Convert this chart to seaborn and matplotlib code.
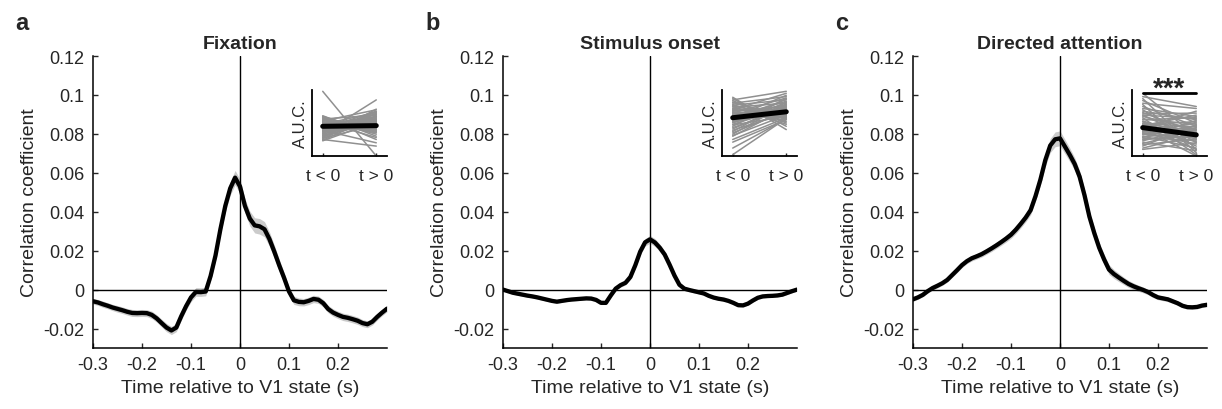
import numpy as np
import pandas as pd
import matplotlib
matplotlib.use("Agg")
import matplotlib.pyplot as plt
import seaborn as sns

sns.set_style("ticks")
plt.rcParams['font.family'] = ['Liberation Sans', 'DejaVu Sans']

# ---------------- data ----------------
time_s = [-0.30, -0.29, -0.28, -0.27, -0.26, -0.25, -0.24, -0.23, -0.22, -0.21,
          -0.20, -0.19, -0.18, -0.17, -0.16, -0.15, -0.14, -0.13, -0.12, -0.11,
          -0.10, -0.09, -0.08, -0.07, -0.06, -0.05, -0.04, -0.03, -0.02, -0.01,
          0.00, 0.01, 0.02, 0.03, 0.04, 0.05, 0.06, 0.07, 0.08, 0.09,
          0.10, 0.11, 0.12, 0.13, 0.14, 0.15, 0.16, 0.17, 0.18, 0.19,
          0.20, 0.21, 0.22, 0.23, 0.24, 0.25, 0.26, 0.27, 0.28, 0.29,
          0.30]

fixation_r = [-0.0060, -0.0066, -0.0075, -0.0083, -0.0092, -0.0099, -0.0106, -0.0114, -0.0120, -0.0121,
              -0.0120, -0.0121, -0.0130, -0.0148, -0.0172, -0.0195, -0.0210, -0.0195, -0.0137, -0.0085,
              -0.0040, -0.0012, -0.0013, -0.0010, 0.0070, 0.0175, 0.0310, 0.0430, 0.0520, 0.0575,
              0.0530, 0.0430, 0.0365, 0.0330, 0.0325, 0.0310, 0.0260, 0.0195, 0.0125, 0.0060,
              -0.0010, -0.0055, -0.0063, -0.0065, -0.0058, -0.0048, -0.0052, -0.0070, -0.0100, -0.0118,
              -0.0130, -0.0140, -0.0145, -0.0152, -0.0160, -0.0172, -0.0178, -0.0165, -0.0140, -0.0118,
              -0.0098]
fixation_sem = [0.0015, 0.0015, 0.0016, 0.0016, 0.0016, 0.0017, 0.0017, 0.0017, 0.0018, 0.0018,
                0.0018, 0.0018, 0.0019, 0.0019, 0.0020, 0.0021, 0.0021, 0.0021, 0.0021, 0.0021,
                0.0022, 0.0022, 0.0022, 0.0022, 0.0024, 0.0026, 0.0029, 0.0032, 0.0035, 0.0037,
                0.0037, 0.0037, 0.0038, 0.0039, 0.0040, 0.0039, 0.0037, 0.0034, 0.0031, 0.0027,
                0.0024, 0.0021, 0.0020, 0.0019, 0.0019, 0.0019, 0.0019, 0.0019, 0.0019, 0.0019,
                0.0019, 0.0019, 0.0019, 0.0019, 0.0019, 0.0018, 0.0018, 0.0017, 0.0017, 0.0016,
                0.0016]

onset_r = [0.0000, -0.0008, -0.0016, -0.0021, -0.0026, -0.0031, -0.0035, -0.0040, -0.0046, -0.0052,
           -0.0058, -0.0062, -0.0058, -0.0054, -0.0051, -0.0049, -0.0047, -0.0045, -0.0046, -0.0053,
           -0.0068, -0.0068, -0.0030, 0.0005, 0.0023, 0.0035, 0.0065, 0.0125, 0.0195, 0.0243,
           0.0258, 0.0242, 0.0215, 0.0180, 0.0128, 0.0072, 0.0025, 0.0005, -0.0002, -0.0008,
           -0.0014, -0.0020, -0.0032, -0.0041, -0.0047, -0.0051, -0.0058, -0.0068, -0.0080, -0.0081,
           -0.0072, -0.0056, -0.0042, -0.0035, -0.0033, -0.0032, -0.0030, -0.0026, -0.0017, -0.0008,
           0.0000]
onset_sem = [0.0008, 0.0008, 0.0008, 0.0008, 0.0008, 0.0008, 0.0008, 0.0008, 0.0008, 0.0008,
             0.0008, 0.0008, 0.0008, 0.0008, 0.0008, 0.0008, 0.0008, 0.0008, 0.0008, 0.0008,
             0.0009, 0.0009, 0.0009, 0.0009, 0.0010, 0.0011, 0.0013, 0.0015, 0.0017, 0.0019,
             0.0020, 0.0020, 0.0019, 0.0017, 0.0015, 0.0013, 0.0011, 0.0010, 0.0009, 0.0009,
             0.0008, 0.0008, 0.0008, 0.0008, 0.0008, 0.0008, 0.0008, 0.0008, 0.0008, 0.0008,
             0.0008, 0.0008, 0.0008, 0.0008, 0.0008, 0.0008, 0.0008, 0.0008, 0.0008, 0.0008,
             0.0008]

attention_r = [-0.0050, -0.0040, -0.0027, -0.0008, 0.0008, 0.0020, 0.0033, 0.0050, 0.0075, 0.0100,
               0.0126, 0.0146, 0.0161, 0.0171, 0.0182, 0.0196, 0.0211, 0.0227, 0.0244, 0.0262,
               0.0282, 0.0308, 0.0338, 0.0370, 0.0408, 0.0480, 0.0565, 0.0665, 0.0740, 0.0772,
               0.0777, 0.0735, 0.0692, 0.0645, 0.0580, 0.0485, 0.0375, 0.0290, 0.0215, 0.0155,
               0.0103, 0.0080, 0.0062, 0.0045, 0.0029, 0.0017, 0.0007, -0.0002, -0.0013, -0.0028,
               -0.0040, -0.0045, -0.0050, -0.0060, -0.0070, -0.0083, -0.0090, -0.0091, -0.0089, -0.0082,
               -0.0078]
attention_sem = [0.0010, 0.0010, 0.0010, 0.0010, 0.0011, 0.0011, 0.0011, 0.0012, 0.0012, 0.0013,
                 0.0013, 0.0013, 0.0014, 0.0014, 0.0015, 0.0015, 0.0016, 0.0016, 0.0017, 0.0018,
                 0.0019, 0.0020, 0.0021, 0.0022, 0.0024, 0.0026, 0.0029, 0.0033, 0.0036, 0.0038,
                 0.0038, 0.0037, 0.0035, 0.0033, 0.0031, 0.0030, 0.0029, 0.0028, 0.0027, 0.0026,
                 0.0025, 0.0023, 0.0021, 0.0019, 0.0018, 0.0017, 0.0016, 0.0015, 0.0014, 0.0013,
                 0.0012, 0.0012, 0.0012, 0.0011, 0.0011, 0.0011, 0.0010, 0.0010, 0.0010, 0.0010,
                 0.0010]

titles = ["Fixation", "Stimulus onset", "Directed attention"]
panel_letters = ["a", "b", "c"]
x_ticks = [-0.3, -0.2, -0.1, 0.0, 0.1, 0.2]
x_tick_labels = ["-0.3", "-0.2", "-0.1", "0", "0.1", "0.2"]
y_ticks = [-0.02, 0.0, 0.02, 0.04, 0.06, 0.08, 0.1, 0.12]
y_tick_labels = ["-0.02", "0", "0.02", "0.04", "0.06", "0.08", "0.1", "0.12"]

# inset (A.U.C., arbitrary units) - individual sessions, before (t<0) and after (t>0)
inset_conditions = [1, 2]
inset_labels = ["t < 0", "t > 0"]
fix_auc_pre = [0.98, 0.61, 0.60, 0.59, 0.58, 0.57, 0.56, 0.55, 0.54, 0.53,
               0.52, 0.51, 0.50, 0.50, 0.49, 0.48, 0.48, 0.47, 0.46, 0.46,
               0.45, 0.45, 0.44, 0.44, 0.43, 0.43, 0.42, 0.41, 0.41, 0.40,
               0.39, 0.38, 0.37, 0.36, 0.35, 0.34, 0.33, 0.32, 0.31, 0.30,
               0.29, 0.28, 0.27, 0.26, 0.25, 0.24, 0.23, 0.52, 0.38, 0.47]
fix_auc_post = [0.00, 0.30, 0.36, 0.25, 0.40, 0.33, 0.62, 0.42, 0.38, 0.70,
                0.44, 0.35, 0.55, 0.48, 0.58, 0.41, 0.66, 0.50, 0.43, 0.60,
                0.47, 0.52, 0.39, 0.63, 0.45, 0.56, 0.49, 0.68, 0.46, 0.53,
                0.20, 0.59, 0.51, 0.64, 0.54, 0.85, 0.57, 0.67, 0.50, 0.61,
                0.55, 0.71, 0.47, 0.65, 0.15, 0.60, 0.52, 0.28, 0.45, 0.37]
fix_auc_mean = [0.45, 0.46]
ons_auc_pre = [0.89, 0.87, 0.85, 0.84, 0.82, 0.81, 0.80, 0.78, 0.77, 0.76,
               0.75, 0.74, 0.72, 0.71, 0.70, 0.69, 0.68, 0.67, 0.66, 0.65,
               0.64, 0.63, 0.62, 0.61, 0.60, 0.59, 0.58, 0.57, 0.56, 0.55,
               0.54, 0.53, 0.52, 0.51, 0.50, 0.48, 0.47, 0.45, 0.43, 0.41,
               0.39, 0.37, 0.35, 0.33, 0.31, 0.30, 0.25, 0.21, 0.12, 0.02]
ons_auc_post = [0.40, 0.45, 0.98, 0.50, 0.55, 0.60, 0.90, 0.52, 0.85, 0.62,
                0.48, 0.80, 0.66, 0.58, 0.95, 0.70, 0.75, 0.57, 0.64, 0.88,
                0.68, 0.72, 0.61, 0.78, 0.83, 0.65, 0.92, 0.70, 0.74, 0.63,
                0.86, 0.67, 0.76, 0.69, 0.81, 0.73, 0.60, 0.87, 0.71, 0.77,
                0.65, 0.82, 0.68, 0.79, 0.62, 0.72, 0.58, 0.55, 0.56, 0.57]
ons_auc_mean = [0.58, 0.67]
att_auc_pre = [0.95, 0.90, 0.87, 0.84, 0.80, 0.78, 0.75, 0.72, 0.70, 0.68,
               0.66, 0.64, 0.62, 0.60, 0.58, 0.56, 0.55, 0.53, 0.52, 0.50,
               0.49, 0.48, 0.46, 0.45, 0.44, 0.43, 0.42, 0.40, 0.39, 0.38,
               0.37, 0.36, 0.35, 0.34, 0.33, 0.32, 0.30, 0.29, 0.28, 0.27,
               0.25, 0.23, 0.21, 0.19, 0.17, 0.15, 0.12, 0.10, 0.62, 0.47]
att_auc_post = [0.30, 0.75, 0.10, 0.50, 0.72, 0.05, 0.45, 0.60, 0.20, 0.55,
                0.35, 0.65, 0.25, 0.40, 0.02, 0.48, 0.58, 0.30, 0.15, 0.44,
                0.38, 0.52, 0.62, 0.10, 0.28, 0.68, 0.00, 0.35, 0.42, 0.22,
                0.33, 0.50, 0.18, 0.40, 0.27, 0.46, 0.12, 0.36, 0.54, 0.24,
                0.31, 0.43, 0.08, 0.39, 0.26, 0.47, 0.32, 0.20, 0.57, 0.34]
att_auc_mean = [0.43, 0.32]
sig_label = ["", "", "***"]
sig_bar_level = 0.95

series = [
    (fixation_r, fixation_sem, fix_auc_pre, fix_auc_post, fix_auc_mean),
    (onset_r, onset_sem, ons_auc_pre, ons_auc_post, ons_auc_mean),
    (attention_r, attention_sem, att_auc_pre, att_auc_post, att_auc_mean),
]

# ---------------- figure ----------------
W, H = 1222, 410
fig = plt.figure(figsize=(W / 100, H / 100), dpi=100)
text_col = "#262626"

main_lefts = [93, 503, 913]
for i, (r, sem, pre, post, mean) in enumerate(series):
    left = main_lefts[i]
    ax = fig.add_axes([left / W, (H - 349) / H, 294 / W, 292 / H])
    df = pd.DataFrame({"t": time_s, "r": r, "sem": sem})
    ax.fill_between(df["t"], df["r"] - df["sem"], df["r"] + df["sem"],
                    color="#cbcbcb", lw=0, zorder=1)
    ax.axhline(0, color="black", lw=1.0, zorder=2)
    ax.axvline(0, color="black", lw=1.0, zorder=2)
    sns.lineplot(data=df, x="t", y="r", ax=ax, color="black", lw=3.1, zorder=3)
    ax.set_xlim(-0.3, 0.3)
    ax.set_ylim(-0.03, 0.12)
    ax.set_xticks(x_ticks)
    ax.set_xticklabels(x_tick_labels)
    ax.set_yticks(y_ticks)
    ax.set_yticklabels(y_tick_labels)
    sns.despine(ax=ax)
    for s in ["left", "bottom"]:
        ax.spines[s].set_linewidth(1.1)
        ax.spines[s].set_color("black")
    ax.tick_params(direction="in", length=3.5, width=1.0, labelsize=13,
                   labelcolor=text_col, pad=6)
    ax.set_xlabel("Time relative to V1 state (s)", fontsize=14, color=text_col, labelpad=4)
    ax.set_ylabel("Correlation coefficient", fontsize=14, color=text_col, labelpad=4)
    ax.set_title(titles[i], fontsize=14, fontweight="bold", pad=6)
    fig.text((left - 78) / W, (H - 23) / H, panel_letters[i], fontsize=17,
             fontweight="bold", ha="left", va="center")

    # inset
    ins_left = left + 219
    iax = fig.add_axes([ins_left / W, (H - 157) / H, 75 / W, 66 / H])
    long = pd.DataFrame({
        "cond": inset_conditions * len(pre),
        "auc": [v for pair in zip(pre, post) for v in pair],
        "unit": [k for k in range(len(pre)) for _ in inset_conditions],
    })
    sns.lineplot(data=long, x="cond", y="auc", units="unit", estimator=None,
                 ax=iax, color="#909090", lw=1.1)
    mdf = pd.DataFrame({"cond": inset_conditions, "auc": mean})
    sns.lineplot(data=mdf, x="cond", y="auc", ax=iax, color="black", lw=3.6)
    iax.set_xlim(0.8, 2.2)
    iax.set_ylim(0, 1)
    iax.set_xticks(inset_conditions)
    iax.set_xticklabels(inset_labels)
    iax.set_yticks([])
    iax.set_xlabel("")
    iax.set_ylabel("A.U.C.", fontsize=12, color=text_col, labelpad=3)
    sns.despine(ax=iax)
    for s in ["left", "bottom"]:
        iax.spines[s].set_linewidth(1.3)
        iax.spines[s].set_color("black")
    iax.tick_params(axis="x", direction="in", length=2.5, width=1.0, labelsize=12.5,
                    labelcolor=text_col, pad=9)
    if sig_label[i]:
        iax.plot(inset_conditions, [sig_bar_level, sig_bar_level], color="black",
                 lw=2.0, clip_on=False)
        iax.text(np.mean(inset_conditions), sig_bar_level - 0.12, sig_label[i],
                 ha="center", va="bottom", fontsize=20, fontweight="bold", clip_on=False)

fig.savefig("out.png", dpi=100)
